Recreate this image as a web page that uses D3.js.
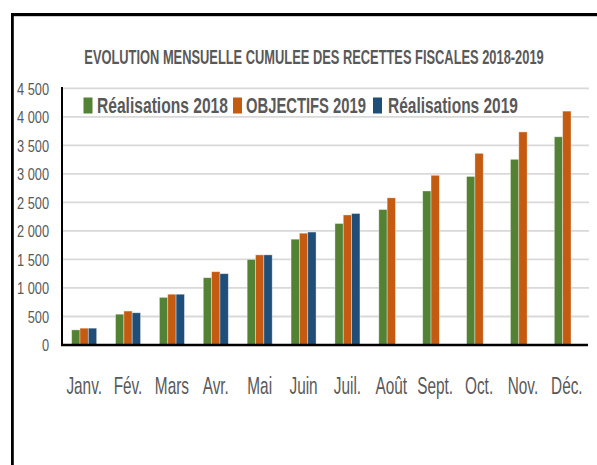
<!DOCTYPE html>
<html>
<head>
<meta charset="utf-8">
<script src="https://cdn.jsdelivr.net/npm/d3@7"></script>
<style>
  html, body { margin: 0; padding: 0; background: #ffffff; }
  svg { display: block; }
  text { font-family: "Liberation Sans", Arial, sans-serif; }
</style>
</head>
<body>
<svg id="chart" width="597" height="465"></svg>
<script>
const months = ["Janv.", "Fév.", "Mars", "Avr.", "Mai", "Juin", "Juil.", "Août", "Sept.", "Oct.", "Nov.", "Déc."];
const realisations2018 = [265, 540, 835, 1180, 1500, 1855, 2130, 2375, 2700, 2955, 3255, 3650];
const objectifs2019 = [295, 595, 890, 1285, 1580, 1960, 2280, 2580, 2975, 3360, 3735, 4100];
const realisations2019 = [295, 565, 890, 1250, 1580, 1980, 2305, null, null, null, null, null];
const seriesNames = ["Réalisations 2018", "OBJECTIFS 2019", "Réalisations 2019"];
const seriesColors = ["#548235", "#C55A11", "#1F4E79"];
const yTicks = [0, 500, 1000, 1500, 2000, 2500, 3000, 3500, 4000, 4500];
const yTickLabels = ["0", "500", "1 000", "1 500", "2 000", "2 500", "3 000", "3 500", "4 000", "4 500"];
const titleText = "EVOLUTION MENSUELLE CUMULEE DES RECETTES FISCALES 2018-2019";

const seriesValues = [realisations2018, objectifs2019, realisations2019];
const svg = d3.select("#chart");
const textColor = "#595959";

// squeeze a text horizontally so it spans exactly `target` pixels
function fitText(sel, tx, ty, target) {
  const w = sel.node().getComputedTextLength();
  sel.attr("x", 0).attr("y", 0)
    .attr("transform", `translate(${tx},${ty}) scale(${target / w},1)`);
}

// frame
svg.append("rect").attr("x", 11).attr("y", 13).attr("width", 586).attr("height", 3.2).attr("fill", "#000");
svg.append("rect").attr("x", 11).attr("y", 13).attr("width", 2.8).attr("height", 452).attr("fill", "#000");

const x = d3.scaleBand().domain(months).range([62, 589]).paddingInner(0.43).paddingOuter(0.22);
const x1 = d3.scaleBand().domain(d3.range(seriesNames.length)).range([0, x.bandwidth()]);
const y = d3.scaleLinear().domain([0, 4500]).range([345, 88.3]);

// gridlines
svg.append("g").selectAll("line").data(yTicks.filter(d => d > 0)).join("line")
  .attr("x1", 62).attr("x2", 589)
  .attr("y1", d => y(d)).attr("y2", d => y(d))
  .attr("stroke", "#d9d9d9").attr("stroke-width", 1.8);

// bars
const rows = months.map((m, i) => ({ m, vals: seriesValues.map(s => s[i]) }));
svg.append("g").selectAll("g").data(rows).join("g")
  .attr("transform", d => `translate(${x(d.m)},0)`)
  .selectAll("rect")
  .data(d => d.vals.map((v, k) => ({ v, k })).filter(e => e.v != null))
  .join("rect")
  .attr("x", e => x1(e.k)).attr("width", x1.bandwidth())
  .attr("y", e => y(e.v)).attr("height", e => y(0) - y(e.v))
  .attr("fill", e => seriesColors[e.k])
  .attr("stroke", "rgba(255,255,255,0.45)").attr("stroke-width", 0.8);

// y axis
const yAxis = svg.append("g").attr("transform", "translate(62,0)")
  .call(d3.axisLeft(y).tickValues(yTicks).tickSize(0).tickFormat((d, i) => yTickLabels[i]));
yAxis.select(".domain").remove();
yAxis.selectAll(".tick text")
  .attr("x", 0).attr("dy", "0.36em")
  .attr("transform", "translate(-13,0) scale(0.8,1)")
  .attr("fill", textColor).style("font-size", "16px");
svg.append("line").attr("x1", 62).attr("x2", 62).attr("y1", 87).attr("y2", 345)
  .attr("stroke", "#000").attr("stroke-width", 2);

// x axis
const xAxis = svg.append("g").attr("transform", "translate(0,345)")
  .call(d3.axisBottom(x).tickSize(0));
xAxis.select(".domain").remove();
xAxis.selectAll(".tick text")
  .attr("y", 0).attr("dy", 0)
  .attr("transform", "translate(0,49) scale(0.64,1)")
  .attr("fill", textColor).style("font-size", "24px");
svg.append("line").attr("x1", 61).attr("x2", 588).attr("y1", 345).attr("y2", 345)
  .attr("stroke", "#000").attr("stroke-width", 2.6);

// title
const title = svg.append("text").attr("text-anchor", "middle")
  .attr("fill", textColor).style("font-size", "20px").style("font-weight", "bold")
  .text(titleText);
fitText(title, 314, 63.5, 460);

// legend
const legendItems = [
  { sx: 83.5, tx: 97, w: 131 },
  { sx: 233, tx: 246, w: 120 },
  { sx: 373, tx: 388, w: 130 }
];
const lg = svg.append("g");
lg.selectAll("rect").data(legendItems).join("rect")
  .attr("x", d => d.sx).attr("y", 97.5).attr("width", 9).attr("height", 16)
  .attr("fill", (d, i) => seriesColors[i]);
lg.selectAll("text").data(legendItems).join("text")
  .attr("fill", textColor).style("font-size", "22px").style("font-weight", "bold")
  .text((d, i) => seriesNames[i])
  .each(function (d) { fitText(d3.select(this), d.tx, 113, d.w); });
</script>
</body>
</html>
